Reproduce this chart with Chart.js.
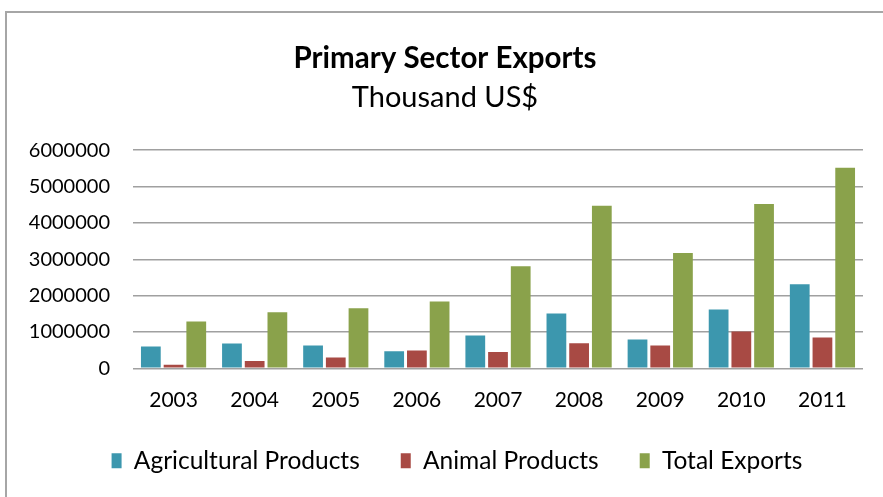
<!DOCTYPE html>
<html>
<head>
<meta charset="utf-8">
<script src="https://cdn.jsdelivr.net/npm/chart.js@4/dist/chart.umd.min.js"></script>
<style>
  body { margin: 0; background: #fff; overflow: hidden; }
  #frame {
    position: absolute; left: 5px; top: 11px;
    width: 900px; height: 500px;
    border-left: 2px solid #a6a6a6; border-top: 2px solid #a6a6a6;
  }
  #box { position: absolute; left: 0; top: 0; width: 876px; height: 484px; }
</style>
</head>
<body>
<div id="frame"><div id="box"><canvas id="myChart"></canvas></div></div>
<script>
// Datos de la grafica (miles de US$)
const years = ['2003', '2004', '2005', '2006', '2007', '2008', '2009', '2010', '2011'];
const agricultural = [600000, 680000, 630000, 470000, 900000, 1510000, 790000, 1620000, 2310000];
const animal = [95000, 200000, 300000, 490000, 450000, 690000, 630000, 1010000, 850000];
const total = [1290000, 1540000, 1650000, 1840000, 2810000, 4470000, 3170000, 4520000, 5520000];
const yTicks = [0, 1000000, 2000000, 3000000, 4000000, 5000000, 6000000];

const fontName = 'Lato, "Open Sans", sans-serif';

const data = {
   labels: years,
   datasets: [{
      label: 'Agricultural Products',
      backgroundColor: '#3c97ae',
      data: agricultural
   }, {
      label: 'Animal Products',
      backgroundColor: '#a84a44',
      data: animal
   }, {
      label: 'Total Exports',
      backgroundColor: '#8aa24b',
      data: total
   }]
};

// mover la leyenda (derecha y arriba)
const moverLeyenda = {
   id: 'moverLeyenda',
   afterLayout: function (chart) {
      chart.legend.left += 12;
      chart.legend.right += 12;
      chart.legend.top -= 16;
      chart.legend.bottom -= 16;
   }
};

const config = {
   type: 'bar',
   data: data,
   plugins: [moverLeyenda],
   options: {
      responsive: true,
      maintainAspectRatio: false,
      animation: false,
      datasets: { bar: { categoryPercentage: 0.84, barPercentage: 0.87 } },
      layout: { padding: { left: 20, right: 20, top: 10, bottom: -2 } },
      scales: {
         x: {
            grid: { display: false },
            border: { display: false },
            ticks: { color: '#000', font: { family: fontName, size: 21 }, padding: 11 }
         },
         y: {
            min: 0,
            max: 6000000,
            afterBuildTicks: function (axis) {
               axis.ticks = yTicks.map(function (v) { return { value: v }; });
            },
            afterFit: function (axis) {
               axis.width = 106;
            },
            grid: { color: '#a0a0a0', lineWidth: 1.5, drawTicks: false },
            border: { display: false },
            ticks: {
               color: '#000',
               font: { family: fontName, size: 20 },
               padding: 23,
               callback: function (v) { return String(v); }
            }
         }
      },
      plugins: {
         title: {
            display: true,
            text: 'Primary Sector Exports',
            color: '#000',
            font: { family: fontName, size: 29.5, weight: 'bold' },
            padding: { top: 18, bottom: 4 }
         },
         subtitle: {
            display: true,
            text: 'Thousand US$',
            color: '#000',
            font: { family: fontName, size: 29, weight: 'normal' },
            padding: { bottom: 35 }
         },
         legend: {
            position: 'bottom',
            labels: {
               color: '#000',
               font: { family: fontName, size: 24.5 },
               boxWidth: 10,
               boxHeight: 15,
               padding: 41
            }
         },
         tooltip: { enabled: false }
      }
   }
};

const myChart = new Chart(document.getElementById('myChart'), config);
</script>
</body>
</html>
